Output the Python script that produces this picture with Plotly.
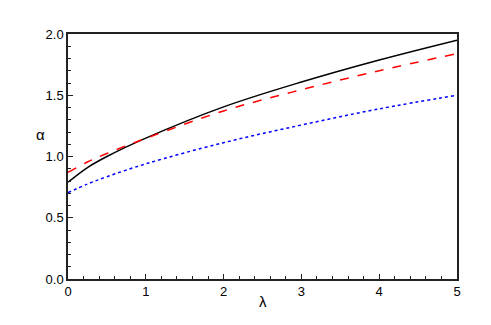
import plotly.graph_objects as go

lam = [0, 0.25, 0.5, 1, 2, 3, 4, 5]
alpha_solid = [0.79, 0.91, 1.00, 1.15, 1.405, 1.608, 1.788, 1.95]
alpha_dash = [0.87, 0.955, 1.025, 1.148, 1.372, 1.545, 1.70, 1.84]
alpha_dot = [0.705, 0.775, 0.835, 0.94, 1.113, 1.257, 1.389, 1.50]

fig = go.Figure()
fig.add_trace(go.Scatter(x=lam, y=alpha_solid, mode="lines",
                         line=dict(color="black", width=1.5, shape="spline")))
fig.add_trace(go.Scatter(x=lam, y=alpha_dash, mode="lines",
                         line=dict(color="red", width=1.5, dash="dash", shape="spline")))
fig.add_trace(go.Scatter(x=lam, y=alpha_dot, mode="lines",
                         line=dict(color="blue", width=1.5, dash="dot", shape="spline")))

axis_common = dict(
    showgrid=False, zeroline=False,
    showline=True, linecolor="#222", linewidth=1.5, mirror=True,
    ticks="inside", ticklen=5, tickcolor="#222",
    tickfont=dict(family="Liberation Sans, Arial", size=13, color="black"),
)

fig.update_layout(
    width=491, height=325,
    margin=dict(l=60, r=42, t=26, b=54),
    paper_bgcolor="white", plot_bgcolor="white",
    showlegend=False,
    xaxis=dict(range=[0, 5], dtick=1, tickformat="d",
               minor=dict(ticks="inside", dtick=0.2, ticklen=3, tickcolor="#222"),
               **axis_common),
    yaxis=dict(range=[0, 2], dtick=0.5, tickformat=".1f",
               minor=dict(ticks="inside", dtick=0.1, ticklen=3, tickcolor="#222"),
               **axis_common),
    annotations=[
        dict(text="λ", xref="paper", yref="paper", x=0.5, y=-0.135,
             showarrow=False, font=dict(family="Liberation Sans, Arial", size=15, color="black")),
        dict(text="α", xref="paper", yref="y", x=-0.088, y=1.18,
             showarrow=False, font=dict(family="Liberation Sans, Arial", size=15, color="black")),
    ],
)

fig.write_html("out.html")
